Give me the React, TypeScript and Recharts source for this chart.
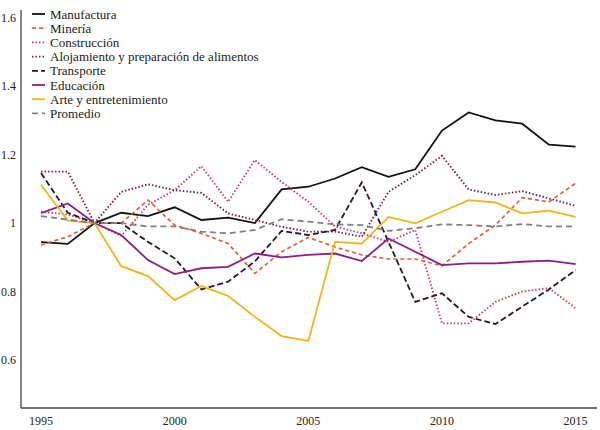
import React from 'react';
import { LineChart, Line, XAxis, YAxis } from 'recharts';

const years = [1995, 1996, 1997, 1998, 1999, 2000, 2001, 2002, 2003, 2004, 2005, 2006, 2007, 2008, 2009, 2010, 2011, 2012, 2013, 2014, 2015];

const manufactura = [0.944, 0.939, 1.0, 1.03, 1.02, 1.046, 1.009, 1.016, 1.0, 1.098, 1.106, 1.13, 1.163, 1.135, 1.157, 1.27, 1.323, 1.3, 1.29, 1.229, 1.223];
const mineria = [0.936, 0.96, 1.0, 1.0, 1.067, 0.994, 0.97, 0.94, 0.853, 0.916, 0.958, 0.93, 0.907, 0.895, 0.895, 0.875, 0.94, 0.994, 1.074, 1.062, 1.116];
const construccion = [1.033, 1.025, 1.0, 0.962, 1.053, 1.096, 1.166, 1.062, 1.184, 1.12, 1.062, 0.99, 0.97, 0.945, 0.98, 0.707, 0.707, 0.77, 0.8, 0.81, 0.751];
const alojamiento = [1.15, 1.15, 1.0, 1.091, 1.113, 1.096, 1.088, 1.028, 1.009, 0.989, 0.975, 0.975, 0.96, 1.091, 1.14, 1.196, 1.098, 1.082, 1.093, 1.072, 1.05];
const transporte = [1.146, 1.03, 1.0, 1.0, 0.945, 0.897, 0.806, 0.829, 0.888, 0.977, 0.965, 0.98, 1.119, 0.945, 0.77, 0.795, 0.726, 0.705, 0.756, 0.806, 0.863];
const educacion = [1.029, 1.057, 1.0, 0.965, 0.892, 0.851, 0.868, 0.872, 0.911, 0.9, 0.907, 0.911, 0.889, 0.955, 0.916, 0.877, 0.882, 0.882, 0.887, 0.89, 0.88];
const arte = [1.112, 1.007, 1.0, 0.874, 0.845, 0.775, 0.816, 0.787, 0.726, 0.67, 0.656, 0.945, 0.94, 1.018, 0.999, 1.033, 1.067, 1.06, 1.028, 1.036, 1.018];
const promedio = [1.02, 1.01, 1.0, 1.0, 0.99, 0.99, 0.975, 0.97, 0.98, 1.011, 1.004, 0.996, 0.994, 0.977, 0.985, 0.996, 0.994, 0.99, 0.997, 0.99, 0.99];

const xTicks = [1995, 2000, 2005, 2010, 2015];
const yTicks = [0.6, 0.8, 1, 1.2, 1.4, 1.6];

const series = [
  { key: 'manufactura', name: 'Manufactura', values: manufactura, color: '#111111', dash: undefined as string | undefined, width: 1.8 },
  { key: 'mineria', name: 'Minería', values: mineria, color: '#e0603c', dash: '4 3', width: 1.7 },
  { key: 'construccion', name: 'Construcción', values: construccion, color: '#c8405a', dash: '1.5 2', width: 1.9 },
  { key: 'alojamiento', name: 'Alojamiento y preparación de alimentos', values: alojamiento, color: '#74204f', dash: '1.5 2', width: 1.9 },
  { key: 'transporte', name: 'Transporte', values: transporte, color: '#2a1628', dash: '6 3', width: 1.8 },
  { key: 'educacion', name: 'Educación', values: educacion, color: '#8e1e80', dash: undefined, width: 1.8 },
  { key: 'arte', name: 'Arte y entretenimiento', values: arte, color: '#f0b41c', dash: undefined, width: 1.8 },
  { key: 'promedio', name: 'Promedio', values: promedio, color: '#808080', dash: '6 4', width: 1.8 },
];

const data = years.map((year, i) => {
  const row: Record<string, number> = { year };
  series.forEach((s) => {
    row[s.key] = s.values[i];
  });
  return row;
});

const FONT = "'Liberation Serif', serif";

const CustomLegend = () => (
  <svg width={260} height={118} style={{ position: 'absolute', left: 30, top: 6, overflow: 'visible' }}>
    {series.map((s, i) => {
      const y = 8 + i * 14.2;
      return (
        <g key={s.key}>
          <line x1={2} x2={15} y1={y} y2={y} stroke={s.color} strokeWidth={s.width} strokeDasharray={s.dash} />
          <text x={20} y={y} dy="0.35em" fill="#1a1a1a" style={{ fontFamily: FONT, fontSize: 13 }}>
            {s.name}
          </text>
        </g>
      );
    })}
  </svg>
);

export default function App() {
  return (
    <div style={{ position: 'absolute', left: 0, top: 0, width: 600, height: 430, background: '#fff', fontFamily: FONT }}>
      <LineChart width={600} height={430} data={data} margin={{ top: 10, right: 3, bottom: 0, left: 0 }} style={{ fontFamily: FONT }}>
        <XAxis
          dataKey="year"
          type="number"
          domain={[1994.25, 2015.8]}
          ticks={xTicks}
          tickLine={false}
          tickSize={0}
          axisLine={{ stroke: '#444', strokeWidth: 1.3 }}
          tick={{ fontSize: 12, fill: '#222', style: { fontFamily: FONT } }}
          height={22}
          tickMargin={8}
          allowDataOverflow
        />
        <YAxis
          type="number"
          domain={[0.46, 1.622]}
          ticks={yTicks}
          tickLine={false}
          tickSize={0}
          axisLine={{ stroke: '#444', strokeWidth: 1.3 }}
          tick={{ fontSize: 12, fill: '#222', style: { fontFamily: FONT } }}
          tickFormatter={(v: number) => (v === 1 ? '1' : v.toFixed(1))}
          width={21}
          tickMargin={5}
          allowDataOverflow
        />
        {series.map((s) => (
          <Line
            key={s.key}
            dataKey={s.key}
            name={s.name}
            stroke={s.color}
            strokeWidth={s.width}
            strokeDasharray={s.dash}
            dot={false}
            activeDot={false}
            type="linear"
            isAnimationActive={false}
          />
        ))}
      </LineChart>
      <CustomLegend />
    </div>
  );
}
